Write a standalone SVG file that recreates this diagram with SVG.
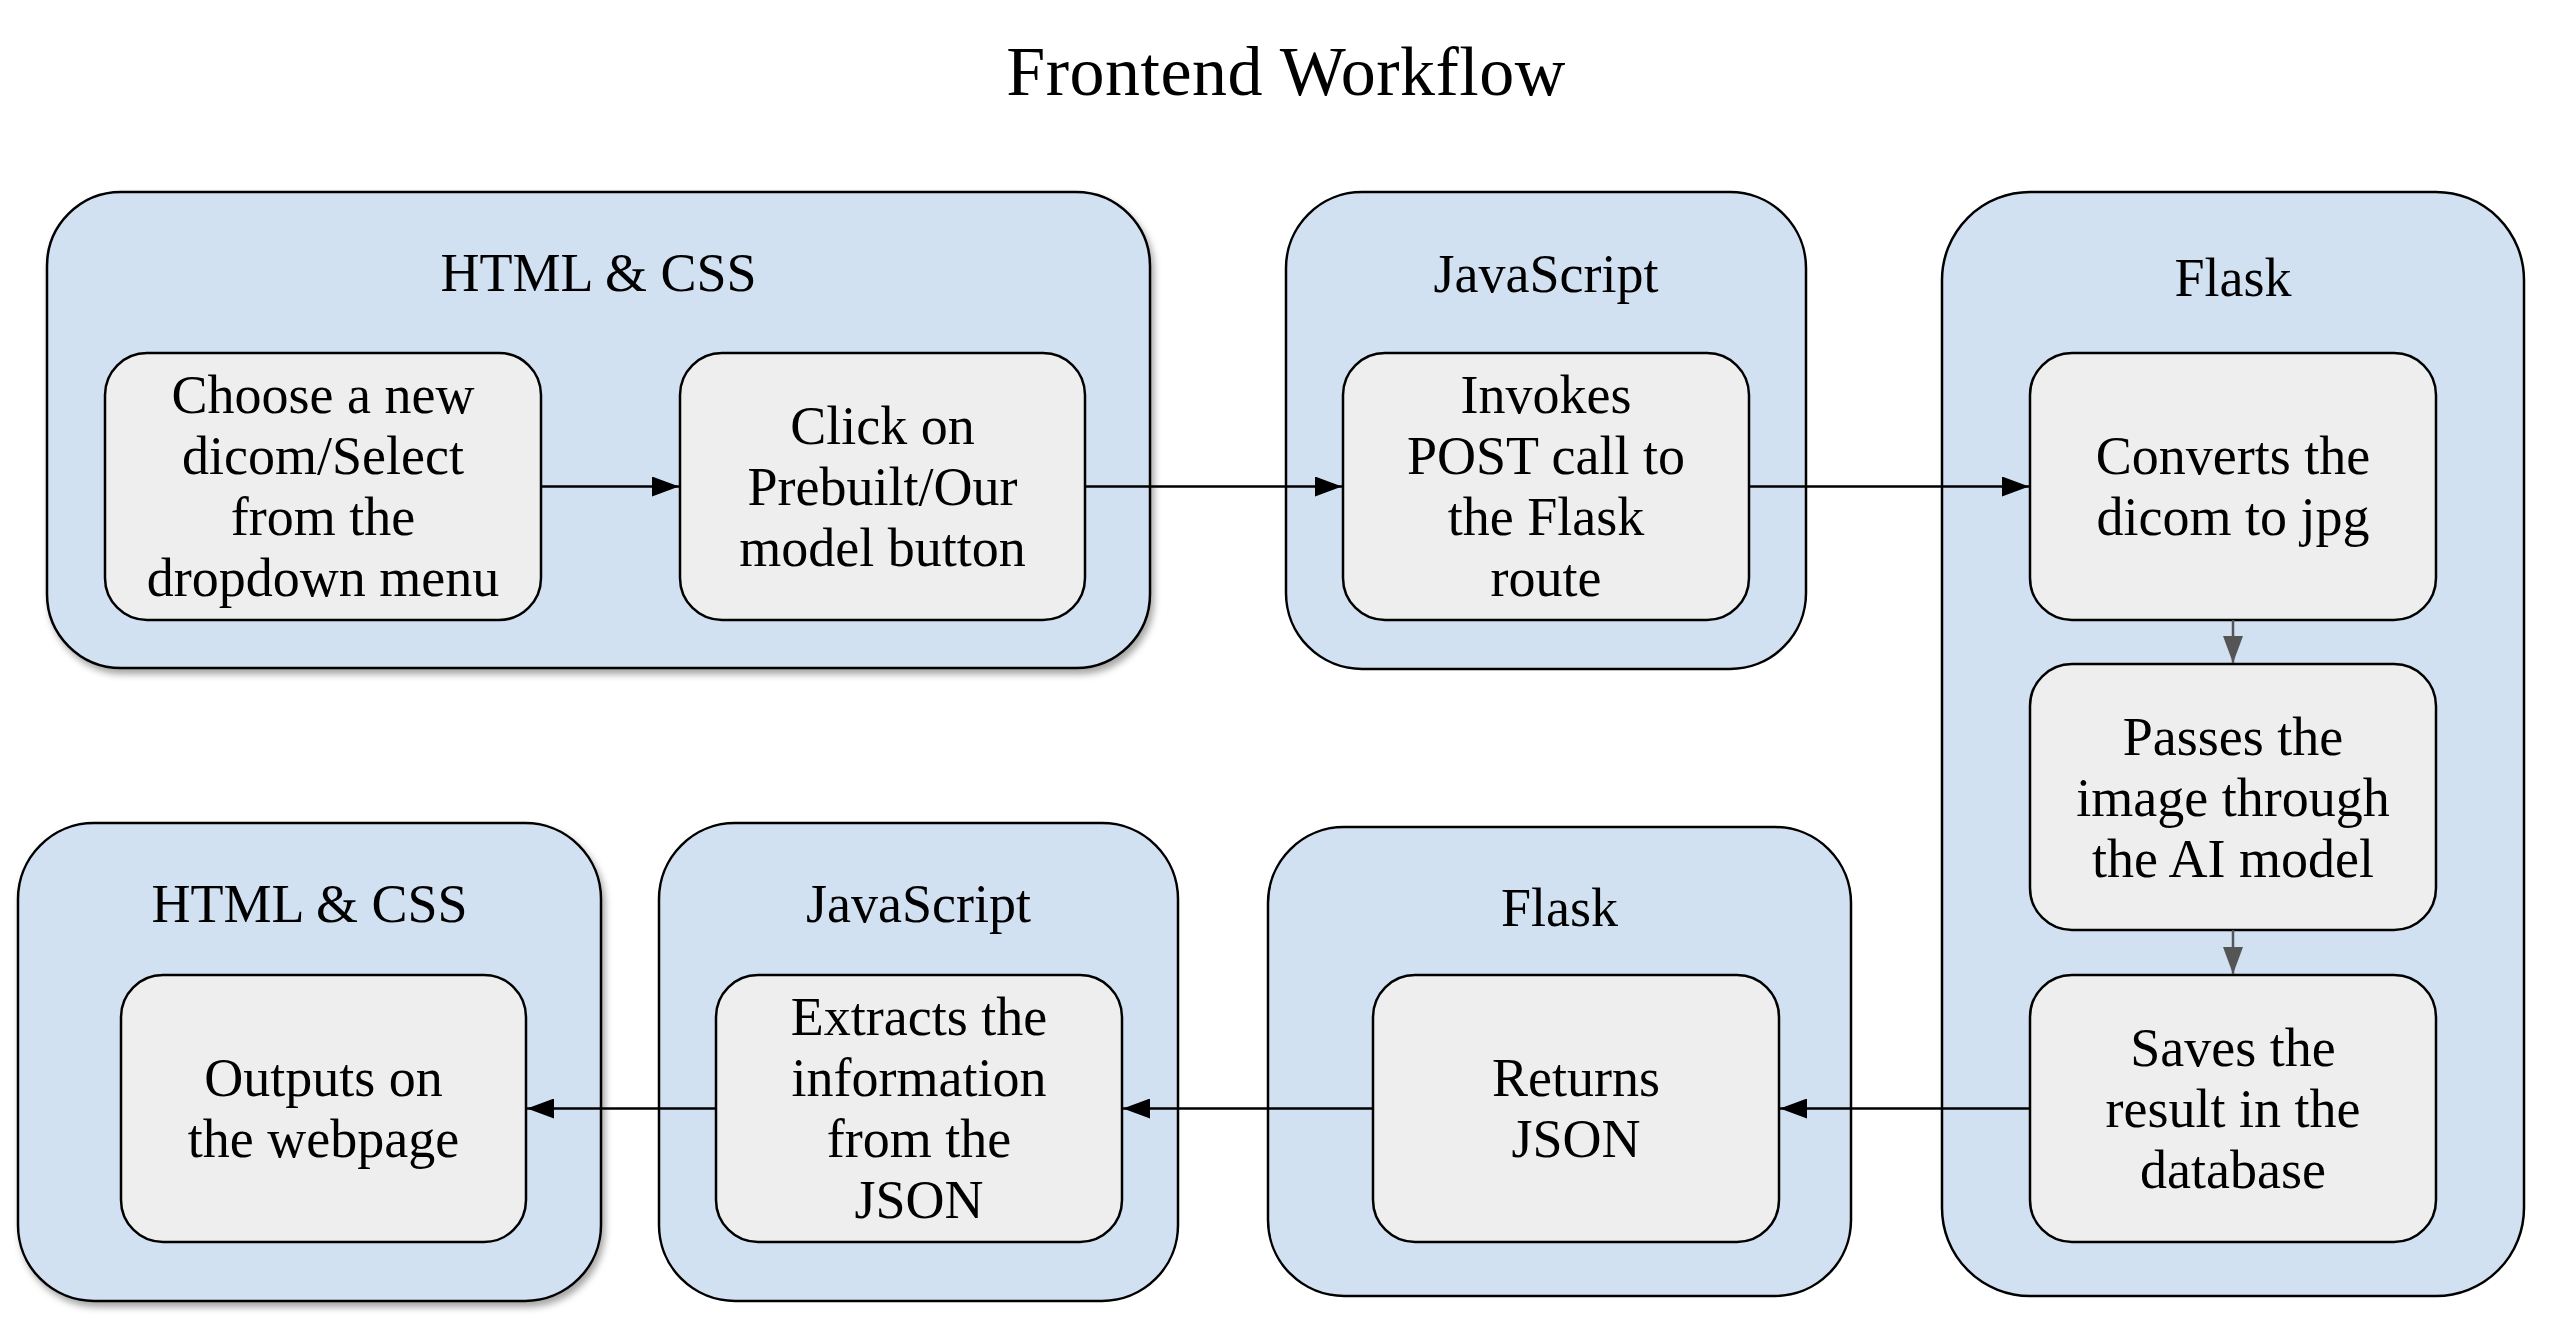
<svg xmlns="http://www.w3.org/2000/svg" width="2550" height="1338" viewBox="0 0 2550 1338">
  <defs>
    <style>
      .outer { fill: #d2e1f1; stroke: #000; stroke-width: 2.5; }
      .inner { fill: #eeeeee; stroke: #000; stroke-width: 2.5; }
      .shadow { filter: url(#sh); }
      text { font-family: "Liberation Serif", "DejaVu Serif", serif; fill: #000; text-anchor: middle; }
      .t { font-size: 54px; }
      .title { font-size: 70px; letter-spacing: 0.5px; }
      .conn { fill: none; stroke: #000; stroke-width: 2.5; }
      .conn-g { fill: none; stroke: #555; stroke-width: 2.5; }
    </style>
    <filter id="sh" x="-10%" y="-10%" width="120%" height="125%">
      <feDropShadow dx="3" dy="5" stdDeviation="3.5" flood-color="#000" flood-opacity="0.35"/>
    </filter>
    <marker id="ah" markerUnits="userSpaceOnUse" markerWidth="28" markerHeight="20" refX="27" refY="10" orient="auto">
      <path d="M0,0 L27,10 L0,20 Z" fill="#000"/>
    </marker>
    <marker id="ahg" markerUnits="userSpaceOnUse" markerWidth="28" markerHeight="20" refX="27" refY="10" orient="auto">
      <path d="M0,0 L27,10 L0,20 Z" fill="#555"/>
    </marker>
  </defs>

  <rect width="2550" height="1338" fill="#fff"/>

  <text class="title" x="1286" y="95">Frontend Workflow</text>

  <g id="group-html-top">
    <rect class="outer shadow" x="47" y="192" width="1103" height="476" rx="74" ry="74"/>
    <text class="t" x="598.5" y="291">HTML &amp; CSS</text>
  </g>
  <g id="group-js-top">
    <rect class="outer" x="1286" y="192" width="520" height="477" rx="76" ry="76"/>
    <text class="t" x="1546" y="292">JavaScript</text>
  </g>
  <g id="group-flask-right">
    <rect class="outer" x="1942" y="192" width="582" height="1104" rx="88" ry="88"/>
    <text class="t" x="2233" y="296">Flask</text>
  </g>
  <g id="group-html-bottom">
    <rect class="outer shadow" x="18" y="823" width="583" height="478" rx="76" ry="76"/>
    <text class="t" x="309.5" y="922">HTML &amp; CSS</text>
  </g>
  <g id="group-js-bottom">
    <rect class="outer" x="659" y="823" width="519" height="478" rx="76" ry="76"/>
    <text class="t" x="918.5" y="922">JavaScript</text>
  </g>
  <g id="group-flask-bottom">
    <rect class="outer" x="1268" y="827" width="583" height="469" rx="76" ry="76"/>
    <text class="t" x="1559.5" y="926">Flask</text>
  </g>

  <g id="node-choose">
    <rect class="inner" x="105" y="353" width="436" height="267" rx="42" ry="42"/>
    <text class="t" x="323" y="413">Choose a new</text>
    <text class="t" x="323" y="474">dicom/Select</text>
    <text class="t" x="323" y="535">from the</text>
    <text class="t" x="323" y="596">dropdown menu</text>
  </g>
  <g id="node-click">
    <rect class="inner" x="680" y="353" width="405" height="267" rx="42" ry="42"/>
    <text class="t" x="882.5" y="444">Click on</text>
    <text class="t" x="882.5" y="505">Prebuilt/Our</text>
    <text class="t" x="882.5" y="566">model button</text>
  </g>
  <g id="node-invokes">
    <rect class="inner" x="1343" y="353" width="406" height="267" rx="42" ry="42"/>
    <text class="t" x="1546" y="413">Invokes</text>
    <text class="t" x="1546" y="474">POST call to</text>
    <text class="t" x="1546" y="535">the Flask</text>
    <text class="t" x="1546" y="596">route</text>
  </g>
  <g id="node-converts">
    <rect class="inner" x="2030" y="353" width="406" height="267" rx="42" ry="42"/>
    <text class="t" x="2233" y="474">Converts the</text>
    <text class="t" x="2233" y="535">dicom to jpg</text>
  </g>
  <g id="node-passes">
    <rect class="inner" x="2030" y="664" width="406" height="266" rx="42" ry="42"/>
    <text class="t" x="2233" y="755">Passes the</text>
    <text class="t" x="2233" y="816">image through</text>
    <text class="t" x="2233" y="877">the AI model</text>
  </g>
  <g id="node-saves">
    <rect class="inner" x="2030" y="975" width="406" height="267" rx="42" ry="42"/>
    <text class="t" x="2233" y="1066">Saves the</text>
    <text class="t" x="2233" y="1127">result in the</text>
    <text class="t" x="2233" y="1188">database</text>
  </g>
  <g id="node-returns">
    <rect class="inner" x="1373" y="975" width="406" height="267" rx="42" ry="42"/>
    <text class="t" x="1576" y="1096">Returns</text>
    <text class="t" x="1576" y="1157">JSON</text>
  </g>
  <g id="node-extracts">
    <rect class="inner" x="716" y="975" width="406" height="267" rx="42" ry="42"/>
    <text class="t" x="919" y="1035">Extracts the</text>
    <text class="t" x="919" y="1096">information</text>
    <text class="t" x="919" y="1157">from the</text>
    <text class="t" x="919" y="1218">JSON</text>
  </g>
  <g id="node-outputs">
    <rect class="inner" x="121" y="975" width="405" height="267" rx="42" ry="42"/>
    <text class="t" x="323.5" y="1096">Outputs on</text>
    <text class="t" x="323.5" y="1157">the webpage</text>
  </g>

  <g id="connectors">
    <line class="conn" x1="541" y1="486.5" x2="679" y2="486.5" marker-end="url(#ah)"/>
    <line class="conn" x1="1085" y1="486.5" x2="1342" y2="486.5" marker-end="url(#ah)"/>
    <line class="conn" x1="1749" y1="486.5" x2="2029" y2="486.5" marker-end="url(#ah)"/>
    <line class="conn-g" x1="2233" y1="620" x2="2233" y2="663" marker-end="url(#ahg)"/>
    <line class="conn-g" x1="2233" y1="930" x2="2233" y2="974" marker-end="url(#ahg)"/>
    <line class="conn" x1="2030" y1="1108.5" x2="1780" y2="1108.5" marker-end="url(#ah)"/>
    <line class="conn" x1="1373" y1="1108.5" x2="1123" y2="1108.5" marker-end="url(#ah)"/>
    <line class="conn" x1="716" y1="1108.5" x2="527" y2="1108.5" marker-end="url(#ah)"/>
  </g>
</svg>
